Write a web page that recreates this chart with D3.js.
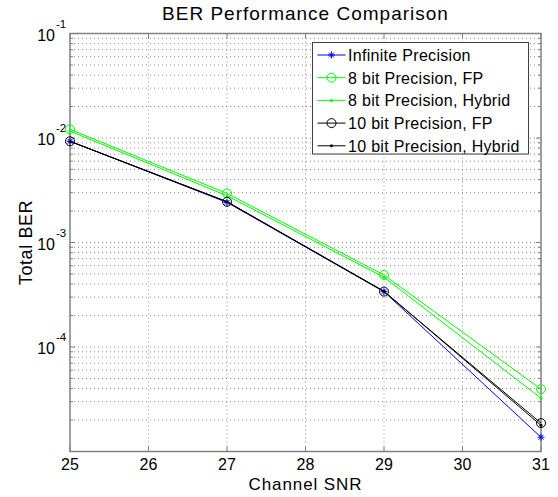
<!DOCTYPE html>
<html>
<head>
<meta charset="utf-8">
<script src="https://cdn.jsdelivr.net/npm/d3@7"></script>
<style>
  body { margin: 0; background: #fff; }
  svg { font-family: "Liberation Sans", Arial, sans-serif; }
</style>
</head>
<body>
<svg width="558" height="497"></svg>
<script>
const snr = [25, 27, 29, 31];
const infinite = [0.0093, 0.00242, 0.000339, 0.0000137];
const bit8fp = [0.0121, 0.00295, 0.000489, 0.0000395];
const bit8hybrid = [0.01165, 0.0028, 0.000465, 0.0000324];
const bit10fp = [0.0093, 0.00245, 0.000339, 0.0000187];
const bit10hybrid = [0.0093, 0.00246, 0.000342, 0.0000178];
const xTicks = [25, 26, 27, 28, 29, 30, 31];
const yMajor = [1e-1, 1e-2, 1e-3, 1e-4];
const yExp = [-1, -2, -3, -4];

const series = [
  { name: 'Infinite Precision', vals: infinite, color: '#0000ff', marker: 'star' },
  { name: '8 bit Precision, FP', vals: bit8fp, color: '#00ff00', marker: 'circle' },
  { name: '8 bit Precision, Hybrid', vals: bit8hybrid, color: '#00ff00', marker: 'dot' },
  { name: '10 bit Precision, FP', vals: bit10fp, color: '#000000', marker: 'circle' },
  { name: '10 bit Precision, Hybrid', vals: bit10hybrid, color: '#000000', marker: 'dot' }
];

const svg = d3.select('svg');
const margin = { left: 70, right: 17, top: 33.5, bottom: 45.5 };
const width = 558, height = 497;
const x = d3.scaleLinear().domain([25, 31]).range([margin.left, width - margin.right]);
const y = d3.scaleLog().domain([1e-5, 1e-1]).range([height - margin.bottom, margin.top]);

const axisColor = '#808080';
const gridColor = '#8c8c8c';

// minor + major y grid values
const yGrid = [];
for (let e = -5; e <= -2; e++) {
  for (let m = 1; m <= 9; m++) {
    const v = m * Math.pow(10, e);
    if (v > 1e-5 && v < 1e-1) yGrid.push(v);
  }
}

const grid = svg.append('g');
grid.selectAll('.gx').data(xTicks.slice(1, -1)).enter().append('line')
  .attr('x1', d => x(d)).attr('x2', d => x(d))
  .attr('y1', y(1e-1)).attr('y2', y(1e-5))
  .attr('stroke', gridColor).attr('stroke-width', 1).attr('stroke-dasharray', '1,3');
grid.selectAll('.gy').data(yGrid).enter().append('line')
  .attr('x1', x(25)).attr('x2', x(31))
  .attr('y1', d => y(d)).attr('y2', d => y(d))
  .attr('stroke', gridColor).attr('stroke-width', 1).attr('stroke-dasharray', '1,3');

// ticks (inward, all four sides)
const tk = svg.append('g').attr('stroke', axisColor).attr('stroke-width', 1);
xTicks.forEach(t => {
  tk.append('line').attr('x1', x(t)).attr('x2', x(t)).attr('y1', y(1e-5)).attr('y2', y(1e-5) - 5);
  tk.append('line').attr('x1', x(t)).attr('x2', x(t)).attr('y1', y(1e-1)).attr('y2', y(1e-1) + 5);
});
yGrid.concat([1e-1, 1e-5]).forEach(v => {
  const len = yMajor.includes(v) ? 5 : 3;
  tk.append('line').attr('x1', x(25)).attr('x2', x(25) + len).attr('y1', y(v)).attr('y2', y(v));
  tk.append('line').attr('x1', x(31)).attr('x2', x(31) - len).attr('y1', y(v)).attr('y2', y(v));
});

// box
svg.append('rect')
  .attr('x', x(25)).attr('y', y(1e-1))
  .attr('width', x(31) - x(25)).attr('height', y(1e-5) - y(1e-1))
  .attr('fill', 'none').attr('stroke', axisColor).attr('stroke-width', 1.5);

// x tick labels
svg.append('g').selectAll('text').data(xTicks).enter().append('text')
  .attr('x', d => x(d)).attr('y', y(1e-5) + 18)
  .attr('text-anchor', 'middle').attr('font-size', 16).attr('fill', '#000')
  .text(d => d);

// y tick labels 10^e
const yl = svg.append('g').selectAll('g').data(yMajor).enter().append('g')
  .attr('transform', d => `translate(${x(25) - 15},${y(d) + 7})`);
yl.append('text').attr('text-anchor', 'end').attr('font-size', 16).text('10');
yl.append('text').attr('x', 1).attr('y', -13).attr('font-size', 11.5)
  .text((d, i) => yExp[i] < 0 ? '-' + Math.abs(yExp[i]) : yExp[i]);

// lines
const line = d3.line().x((d, i) => x(snr[i])).y(d => y(d));
const plot = svg.append('g');
series.forEach(s => {
  plot.append('path').datum(s.vals)
    .attr('d', line).attr('fill', 'none')
    .attr('stroke', s.color).attr('stroke-width', 1);
});

function drawMarker(g, type, color, cx, cy) {
  if (type === 'circle') {
    g.append('circle').attr('cx', cx).attr('cy', cy).attr('r', 4.5)
      .attr('fill', 'none').attr('stroke', color).attr('stroke-width', 1);
  } else if (type === 'dot') {
    g.append('circle').attr('cx', cx).attr('cy', cy).attr('r', 1.5).attr('fill', color);
  } else {
    const r = 3.5;
    [[-r, 0, r, 0], [0, -r, 0, r], [-r * 0.7, -r * 0.7, r * 0.7, r * 0.7], [-r * 0.7, r * 0.7, r * 0.7, -r * 0.7]]
      .forEach(p => g.append('line')
        .attr('x1', cx + p[0]).attr('y1', cy + p[1]).attr('x2', cx + p[2]).attr('y2', cy + p[3])
        .attr('stroke', color).attr('stroke-width', 1));
  }
}
series.forEach(s => {
  s.vals.forEach((v, i) => drawMarker(plot, s.marker, s.color, x(snr[i]), y(v)));
});

// legend
const lg = svg.append('g').attr('transform', 'translate(312.5,42.5)');
lg.append('rect').attr('width', 216).attr('height', 111.5)
  .attr('fill', '#fff').attr('stroke', '#404040').attr('stroke-width', 1);
series.forEach((s, i) => {
  const ly = 12.5 + i * 22.7;
  lg.append('line').attr('x1', 5).attr('x2', 33).attr('y1', ly).attr('y2', ly)
    .attr('stroke', s.color).attr('stroke-width', 1);
  drawMarker(lg, s.marker, s.color, 19, ly);
  lg.append('text').attr('x', 35.5).attr('y', ly + 5.8)
    .attr('font-size', 16).attr('letter-spacing', 0.3).text(s.name);
});

// title and axis labels
svg.append('text').attr('x', (x(25) + x(31)) / 2).attr('y', 20)
  .attr('text-anchor', 'middle').attr('font-size', 19).attr('letter-spacing', 1)
  .text('BER Performance Comparison');
svg.append('text').attr('x', (x(25) + x(31)) / 2).attr('y', 490)
  .attr('text-anchor', 'middle').attr('font-size', 17).attr('letter-spacing', 0.9)
  .text('Channel SNR');
svg.append('text')
  .attr('transform', `translate(31.5,${(y(1e-1) + y(1e-5)) / 2}) rotate(-90)`)
  .attr('text-anchor', 'middle').attr('font-size', 18).attr('letter-spacing', 0.6)
  .text('Total BER');
</script>
</body>
</html>
